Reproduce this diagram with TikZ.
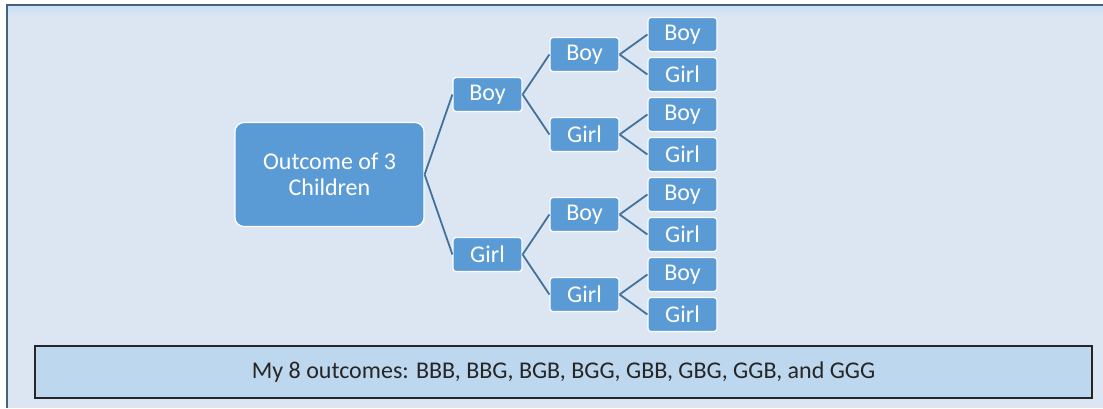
\documentclass[tikz,border=0pt]{standalone}
\usepackage{fontspec}
\setmainfont{Carlito}

\definecolor{boxblue}{HTML}{5B9BD5}
\definecolor{linkblue}{HTML}{41719C}
\definecolor{panelbg}{HTML}{DCE6F2}
\definecolor{panelhi}{HTML}{C9E0F7}
\definecolor{framedark}{HTML}{44617E}
\definecolor{notefill}{HTML}{BDD7EE}
\definecolor{notetext}{HTML}{262626}

\tikzset{
  childbox/.style={draw=white, line width=1.2pt, fill=boxblue, text=white,
    rounded corners=3pt, minimum width=69pt, minimum height=34pt, inner sep=0pt,
    font=\fontsize{24}{26}\selectfont},
  rootbox/.style={childbox, minimum width=189pt, minimum height=104pt,
    rounded corners=9pt, align=center},
  summary/.style={draw=black!85, line width=1.3pt, fill=notefill, text=notetext,
    minimum width=1057pt, minimum height=52pt, inner sep=0pt,
    font=\fontsize{24}{28}\selectfont}
}

\begin{document}
\begin{tikzpicture}[x=1pt, y=1pt, grow'=right,
  edge from parent/.style={draw=linkblue, line width=1.8pt},
  edge from parent path={(\tikzparentnode.east) -- (\tikzchildnode.west)},
  level 1/.style={level distance=158pt, sibling distance=160pt},
  level 2/.style={level distance=97pt, sibling distance=80pt},
  level 3/.style={level distance=98pt, sibling distance=40pt}]
  \useasboundingbox (0,0) rectangle (1103,-408);
  % panel
  \fill[white] (0,0) rectangle (1103,-408);
  \fill[panelbg] (7,-5) rectangle (1103,-408);
  \shade[top color=panelhi, bottom color=panelbg] (8,-6) rectangle (1103,-16);
  \draw[framedark, line width=2pt] (7,-408) -- (7,-5) -- (1103,-5);

  \node[rootbox] (root) at (329.5,-174.5) {Outcome of 3\\Children}
    child {node[childbox] (b) {Boy}
      child {node[childbox] (bb) {Boy}
        child {node[childbox] (bbb) {Boy}}
        child {node[childbox] (bbg) {Girl}}
      }
      child {node[childbox] (bg) {Girl}
        child {node[childbox] (bgb) {Boy}}
        child {node[childbox] (bgg) {Girl}}
      }
    }
    child {node[childbox] (g) {Girl}
      child {node[childbox] (gb) {Boy}
        child {node[childbox] (gbb) {Boy}}
        child {node[childbox] (gbg) {Girl}}
      }
      child {node[childbox] (gg) {Girl}
        child {node[childbox] (ggb) {Boy}}
        child {node[childbox] (ggg) {Girl}}
      }
    };

  \node[summary] (outcomes) at (563.5,-372)
    {My 8 outcomes: BBB, BBG, BGB, BGG, GBB, GBG, GGB, and GGG};
\end{tikzpicture}
\end{document}
